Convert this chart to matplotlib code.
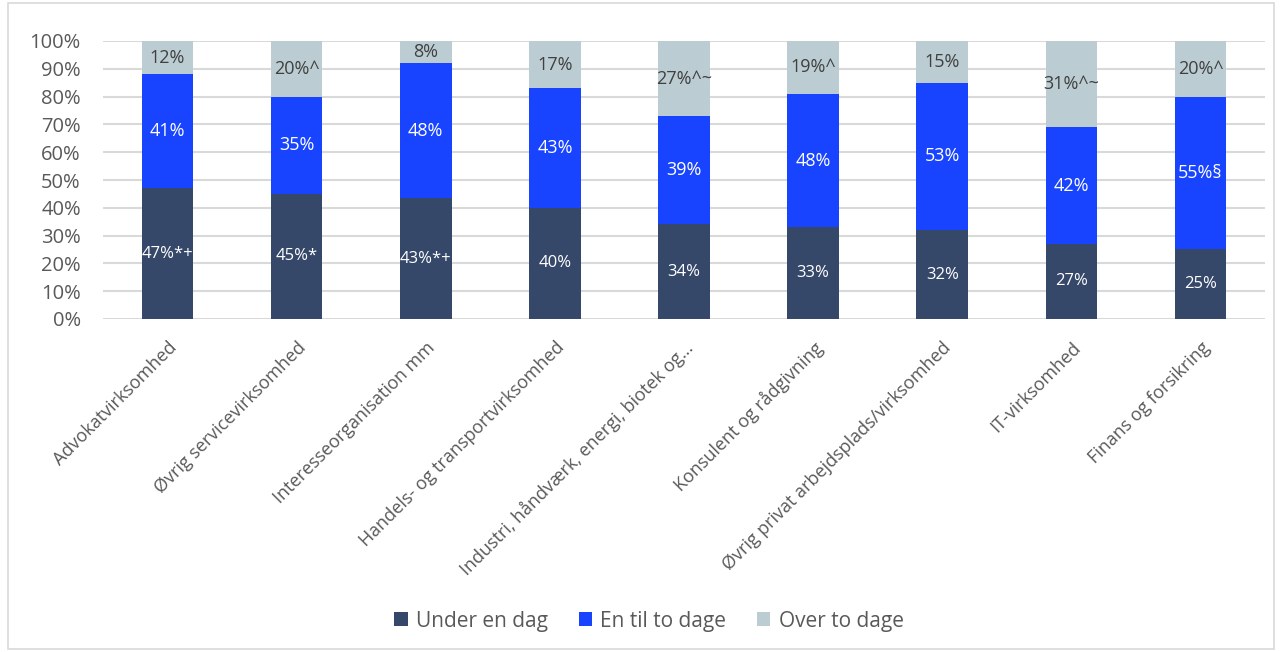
import matplotlib
matplotlib.use("Agg")
import matplotlib.pyplot as plt
from matplotlib.patches import Rectangle
import numpy as np

plt.rcParams['font.family'] = ['Open Sans', 'DejaVu Sans']

categories = ['Advokatvirksomhed', 'Øvrig servicevirksomhed', 'Interesseorganisation mm',
              'Handels- og transportvirksomhed', 'Industri, håndværk, energi, biotek og…',
              'Konsulent og rådgivning', 'Øvrig privat arbejdsplads/virksomhed',
              'IT-virksomhed', 'Finans og forsikring']
under = [47, 45, 43.5, 40, 34, 33, 32, 27, 25]
entil = [41, 35, 48.5, 43, 39, 48, 53, 42, 55]
over = [12, 20, 8, 17, 27, 19, 15, 31, 20]
under_lbl = ['47%*+', '45%*', '43%*+', '40%', '34%', '33%', '32%', '27%', '25%']
entil_lbl = ['41%', '35%', '48%', '43%', '39%', '48%', '53%', '42%', '55%§']
over_lbl = ['12%', '20%^', '8%', '17%', '27%^~', '19%^', '15%', '31%^~', '20%^']
series_names = ['Under en dag', 'En til to dage', 'Over to dage']

c_dark = '#36486A'
c_blue = '#1844FF'
c_light = '#BBCDD2'
txt = '#595959'

fig = plt.figure(figsize=(12.82, 6.52), dpi=100)
fig.patches.append(Rectangle((0.006, 0.004), 0.988, 0.992, transform=fig.transFigure,
                             fill=False, edgecolor='#D9D9D9', linewidth=1.2))
ax = fig.add_axes([103 / 1282, 1 - 319 / 652, (1265 - 103) / 1282, (319 - 41) / 652])

x = np.arange(len(categories))
w = 0.4
b1 = ax.bar(x, under, w, color=c_dark, zorder=3, label=series_names[0])
b2 = ax.bar(x, entil, w, bottom=under, color=c_blue, zorder=3, label=series_names[1])
bot3 = np.array(under) + np.array(entil)
b3 = ax.bar(x, over, w, bottom=bot3, color=c_light, zorder=3, label=series_names[2])

for i in range(len(x)):
    ax.text(x[i], under[i] / 2, under_lbl[i], ha='center', va='center',
            color='white', fontsize=12, zorder=4)
    ax.text(x[i], under[i] + entil[i] / 2, entil_lbl[i], ha='center', va='center',
            color='white', fontsize=13, zorder=4)
    ax.text(x[i], bot3[i] + over[i] / 2, over_lbl[i], ha='center', va='center',
            color='#404040', fontsize=13, zorder=4)

ax.set_ylim(0, 100)
ax.set_xlim(-0.5, len(x) - 0.5)
ax.set_yticks(range(0, 101, 10))
ax.set_yticklabels([f'{v}%' for v in range(0, 101, 10)], fontsize=14.5, color=txt)
ax.set_xticks(x)
ax.set_xticklabels(categories, rotation=45, ha='right', rotation_mode='anchor',
                   fontsize=13, color=txt)
ax.tick_params(axis='y', length=0, pad=16)
ax.tick_params(axis='x', length=0, pad=14)
ax.grid(axis='y', color='#D9D9D9', linewidth=1.5, zorder=0)
for s in ax.spines.values():
    s.set_visible(False)

fig.legend(handles=[b1, b2, b3], labels=series_names, loc='center',
           bbox_to_anchor=(0.5 + 8 / 1282, 1 - 621 / 652), ncol=3, frameon=False,
           fontsize=15, labelcolor=txt, handlelength=0.65, handleheight=0.65,
           handletextpad=0.4, columnspacing=1.45)

fig.savefig('out.png', dpi=100)
